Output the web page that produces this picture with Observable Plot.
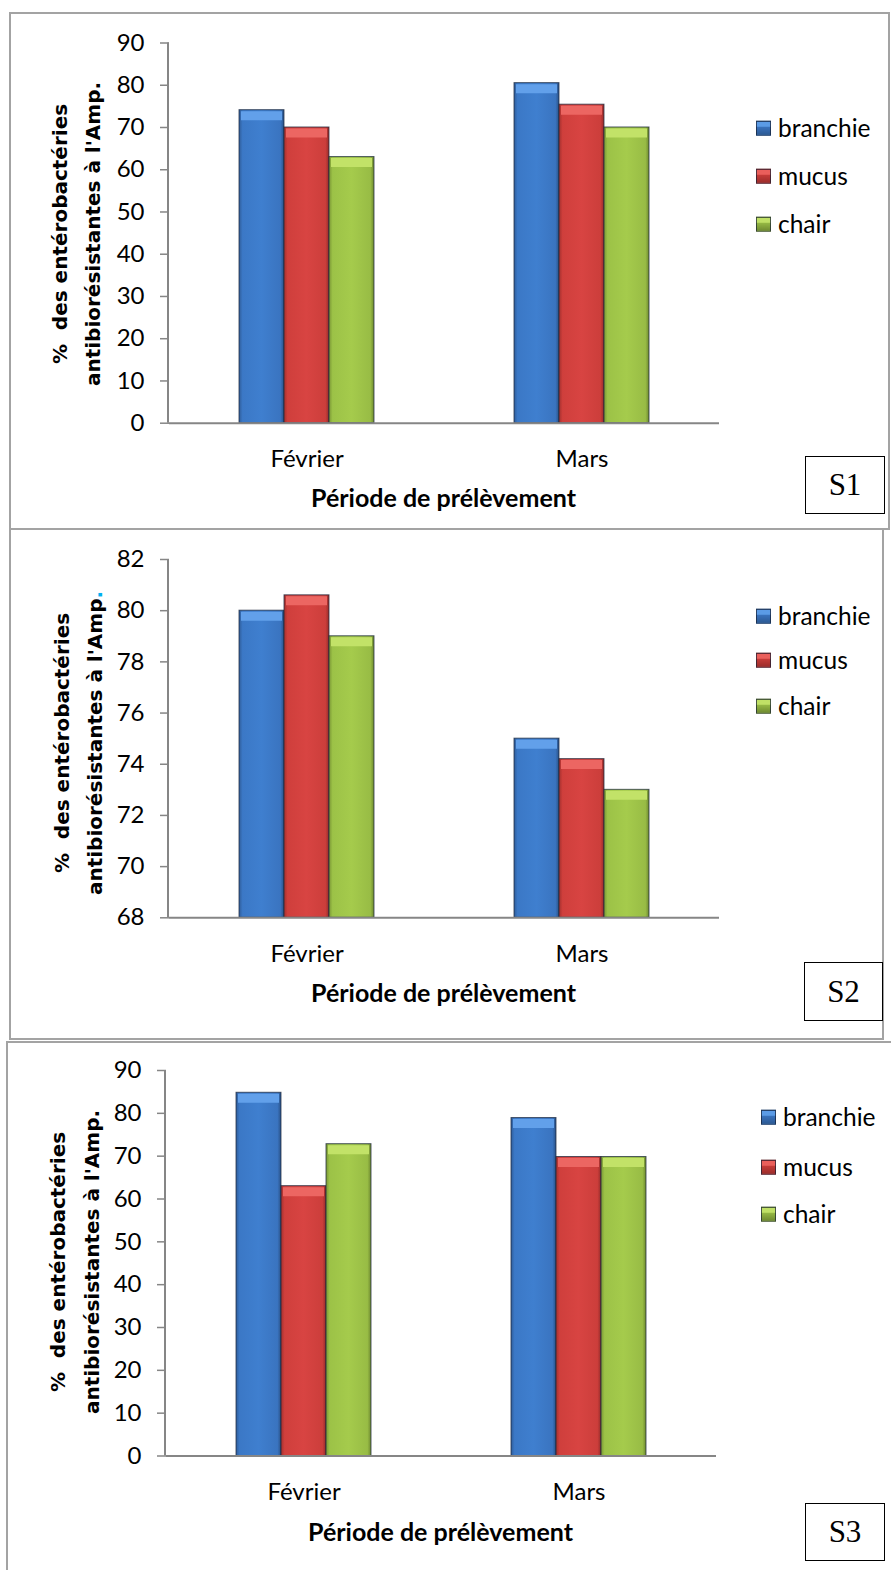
<!DOCTYPE html>
<html><head><meta charset="utf-8">
<script src="https://cdn.jsdelivr.net/npm/d3@7"></script>
<script src="https://cdn.jsdelivr.net/npm/@observablehq/plot@0.6"></script>
<style>
html,body{margin:0;padding:0;background:#fff;}
#page{position:relative;width:891px;height:1570px;overflow:hidden;background:#fff;font-family:Lato,"Open Sans",sans-serif;}
.box{position:absolute;border:2px solid #a3a3a3;box-sizing:border-box;}
.plot{position:absolute;}
.ytl{position:absolute;font-family:"DejaVu Sans",sans-serif;font-weight:bold;font-size:20px;white-space:pre;color:#000;transform:translate(-50%,-50%) rotate(-90deg);line-height:1;}
.xt{position:absolute;font-family:Lato,sans-serif;font-weight:bold;font-size:25px;white-space:nowrap;color:#000;transform:translate(-50%,-50%);line-height:1;}
.leg{position:absolute;display:flex;align-items:center;font-family:Lato,sans-serif;font-size:24.5px;color:#000;transform:translateY(-50%);line-height:1;white-space:nowrap;}
.sw{width:15px;height:15px;box-sizing:border-box;border:1px solid rgba(20,30,50,0.7);margin-right:7px;}
.sbox{position:absolute;border:1px solid #000;box-sizing:border-box;display:flex;align-items:center;justify-content:center;font-family:"Liberation Serif","Times New Roman",serif;font-size:31px;color:#000;background:#fff;}
</style>
</head><body>
<svg width="0" height="0" style="position:absolute">
  <defs>
    <linearGradient id="g-branchie" x1="0" x2="1" y1="0" y2="0">
      <stop offset="0" stop-color="#2f5d9a"/><stop offset="0.08" stop-color="#3b78c6"/><stop offset="0.5" stop-color="#3f7fcf"/><stop offset="0.92" stop-color="#3a74c0"/><stop offset="1" stop-color="#2a5288"/>
    </linearGradient>
    <linearGradient id="g-mucus" x1="0" x2="1" y1="0" y2="0">
      <stop offset="0" stop-color="#a3302e"/><stop offset="0.08" stop-color="#cf3f3c"/><stop offset="0.5" stop-color="#d84442"/><stop offset="0.92" stop-color="#cc3e3b"/><stop offset="1" stop-color="#962c2a"/>
    </linearGradient>
    <linearGradient id="g-chair" x1="0" x2="1" y1="0" y2="0">
      <stop offset="0" stop-color="#7a9735"/><stop offset="0.08" stop-color="#9cc247"/><stop offset="0.5" stop-color="#a5cb4c"/><stop offset="0.92" stop-color="#98bc45"/><stop offset="1" stop-color="#6f8a30"/>
    </linearGradient>
  </defs>
</svg>
<div id="page"></div>
<script>
// ---------- data ----------
const months = ["Février", "Mars"];
const tissues = ["branchie", "mucus", "chair"];

const s1Branchie = [74.1, 80.5];
const s1Mucus    = [70, 75.4];
const s1Chair    = [63, 70];

const s2Branchie = [80, 75];
const s2Mucus    = [80.6, 74.2];
const s2Chair    = [79, 73];

const s3Branchie = [84.8, 78.9];
const s3Mucus    = [63, 69.8];
const s3Chair    = [72.8, 69.8];

const s1Ticks = [0, 10, 20, 30, 40, 50, 60, 70, 80, 90];
const s2Ticks = [68, 70, 72, 74, 76, 78, 80, 82];
const s3Ticks = [0, 10, 20, 30, 40, 50, 60, 70, 80, 90];

const panelNames = ["S1", "S2", "S3"];
const xTitle = "Période de prélèvement";
const yTitle1 = "%  des entérobactéries";
const yTitle2 = "antibiorésistantes à l'Amp";

// ---------- styles ----------
const bevel = {branchie: "#62a0ea", mucus: "#ec6662", chair: "#c2e268"};
const legendBg = {
  branchie: "linear-gradient(to bottom,#5b9be6 0,#5b9be6 35%,#3a74c0 35%,#2c5a94 100%)",
  mucus: "linear-gradient(to bottom,#ea5f5b 0,#ea5f5b 35%,#c93c39 35%,#9c2d2b 100%)",
  chair: "linear-gradient(to bottom,#c0e066 0,#c0e066 35%,#98bc45 35%,#6f8a30 100%)"
};

function table(b, m, c) {
  const rows = [];
  months.forEach((mo, i) => {
    rows.push({month: mo, tissue: "branchie", value: b[i]});
    rows.push({month: mo, tissue: "mucus", value: m[i]});
    rows.push({month: mo, tissue: "chair", value: c[i]});
  });
  return rows;
}

const panels = [
  {data: table(s1Branchie, s1Mucus, s1Chair), ticks: s1Ticks, left: 0, top: 20, height: 460, mt: 22.5, mb: 57.3,
   box: [9, 12, 881, 518], t1x: 60, t2x: 93, ty: 234, xty: 497, legY: [128, 176, 224], legX: 756,
   sbox: [805, 456, 80, 58], dot: "#000"},
  {data: table(s2Branchie, s2Mucus, s2Chair), ticks: s2Ticks, left: 0, top: 537, height: 440, mt: 22, mb: 59.7,
   box: [9, 528, 875, 512], t1x: 62, t2x: 95, ty: 743, xty: 992, legY: [616, 660, 706], legX: 756,
   sbox: [804, 962, 79, 59], dot: "#00b0f0"},
  {data: table(s3Branchie, s3Mucus, s3Chair), ticks: s3Ticks, left: -3, top: 1048, height: 470, mt: 22, mb: 62.5,
   box: [6, 1041, 900, 600], t1x: 58, t2x: 92, ty: 1262, xty: 1531, legY: [1117, 1167, 1214], legX: 761,
   sbox: [805, 1503, 80, 58], dot: "#000"}
];

const page = document.getElementById("page");

panels.forEach((p) => {
  const box = document.createElement("div");
  box.className = "box";
  Object.assign(box.style, {left: p.box[0] + "px", top: p.box[1] + "px", width: p.box[2] + "px", height: p.box[3] + "px"});
  page.appendChild(box);
});

panels.forEach((p, k) => {
  const ymin = d3.min(p.ticks), ymax = d3.max(p.ticks);
  const chart = Plot.plot({
    width: 891,
    height: p.height,
    marginLeft: 168,
    marginRight: 172,
    marginTop: p.mt,
    marginBottom: p.mb,
    style: {background: "transparent", fontFamily: "Lato, 'Open Sans', sans-serif", fontSize: "24px", color: "#000", overflow: "visible"},
    fx: {domain: months, padding: 0, label: null},
    x: {domain: tissues, paddingInner: 0, paddingOuter: 1.5, axis: null},
    y: {domain: [ymin, ymax]},
    marks: [
      Plot.axisY({ticks: p.ticks, tickSize: 9, tickPadding: 16, stroke: "#868686", strokeWidth: 1.5, fill: "#000", label: null, tickFormat: d => String(d)}),
      Plot.axisFx({anchor: "bottom", tickSize: 0, tickPadding: 27, label: null, fill: "#000"}),
      Plot.barY(p.data, {fx: "month", x: "tissue", y1: ymin, y2: "value",
        fill: d => `url(#g-${d.tissue})`, stroke: "#1d2a3d", strokeOpacity: 0.75, strokeWidth: 1}),
      Plot.tickY(p.data, {fx: "month", x: "tissue", y: "value", stroke: d => bevel[d.tissue],
        strokeWidth: 9, dy: 5.5, insetLeft: 2, insetRight: 2}),
      Plot.ruleY([ymin], {stroke: "#868686", strokeWidth: 2})
    ]
  });
  chart.classList.add("plot");
  chart.style.left = p.left + "px";
  chart.style.top = p.top + "px";
  chart.style.maxWidth = "none";
  // y axis line, positioned with the plot's own y scale
  const ys = chart.scale("y");
  d3.select(chart).append("line")
    .attr("x1", 168).attr("x2", 168)
    .attr("y1", ys.apply(ymax)).attr("y2", ys.apply(ymin))
    .attr("stroke", "#868686").attr("stroke-width", 2);
  page.appendChild(chart);

  // y title (two lines)
  const l1 = document.createElement("div");
  l1.className = "ytl"; l1.textContent = yTitle1;
  l1.style.left = p.t1x + "px"; l1.style.top = p.ty + "px";
  page.appendChild(l1);
  const l2 = document.createElement("div");
  l2.className = "ytl";
  l2.innerHTML = yTitle2 + `<span style="color:${p.dot}">.</span>`;
  l2.style.left = p.t2x + "px"; l2.style.top = p.ty + "px";
  page.appendChild(l2);

  // x title
  const xt = document.createElement("div");
  xt.className = "xt"; xt.textContent = xTitle;
  xt.style.left = (443.5 + p.left) + "px"; xt.style.top = p.xty + "px";
  page.appendChild(xt);

  // legend
  tissues.forEach((t, i) => {
    const it = document.createElement("div");
    it.className = "leg";
    it.style.left = p.legX + "px"; it.style.top = p.legY[i] + "px";
    it.innerHTML = `<div class="sw" style="background:${legendBg[t]}"></div><span>${t}</span>`;
    page.appendChild(it);
  });

  // panel name box
  const sb = document.createElement("div");
  sb.className = "sbox"; sb.textContent = panelNames[k];
  Object.assign(sb.style, {left: p.sbox[0] + "px", top: p.sbox[1] + "px", width: p.sbox[2] + "px", height: p.sbox[3] + "px"});
  page.appendChild(sb);
});
</script>
</body></html>
